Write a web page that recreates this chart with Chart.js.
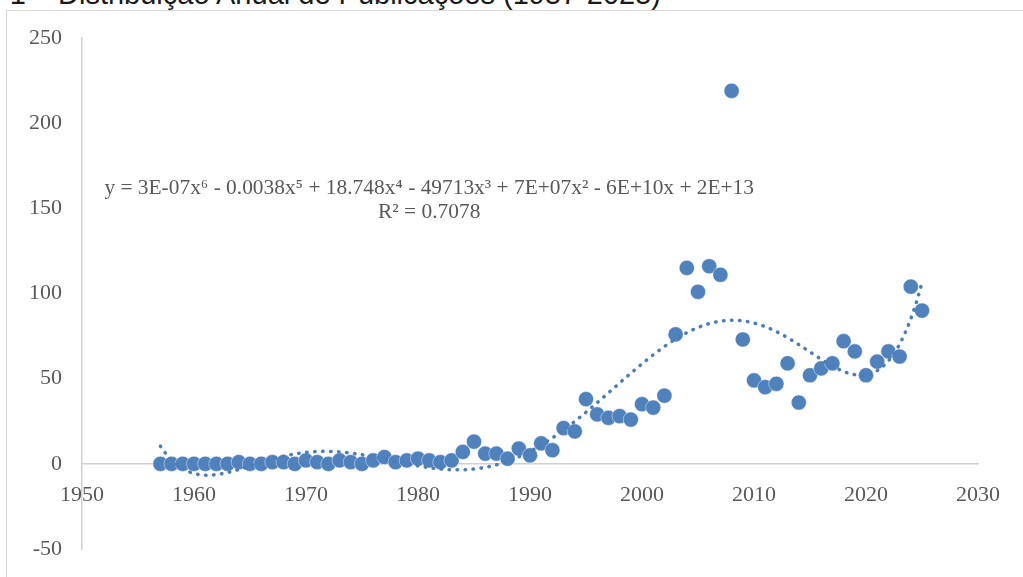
<!DOCTYPE html>
<html>
<head>
<meta charset="utf-8">
<script src="https://cdn.jsdelivr.net/npm/chart.js@4.4.1/dist/chart.umd.min.js"></script>
<style>
  html, body { margin: 0; padding: 0; background: #fff; overflow: hidden; }
  #wrap { position: relative; width: 1023px; height: 577px; overflow: hidden; }
  #caption { position: absolute; right: 362px; top: -20px; font: 29px/29px "Liberation Sans", Arial, sans-serif; color: #1a1a1a; white-space: nowrap; }
  #frame { position: absolute; left: 6px; top: 10px; width: 1040px; height: 600px; border: 1.5px solid #d9d9d9; }
  canvas { position: absolute; left: 0; top: 0; }
</style>
</head>
<body>
<div id="wrap">
  <div id="caption">Gráfico 1 – Distribuição Anual de Publicações (1957-2025)</div>
  <div id="frame"></div>
  <canvas id="pubChart" width="1023" height="577"></canvas>
</div>
<script>
const years = [
  1957, 1958, 1959, 1960, 1961, 1962, 1963, 1964, 1965, 1966,
  1967, 1968, 1969, 1970, 1971, 1972, 1973, 1974, 1975, 1976,
  1977, 1978, 1979, 1980, 1981, 1982, 1983, 1984, 1985, 1986,
  1987, 1988, 1989, 1990, 1991, 1992, 1993, 1994, 1995, 1996,
  1997, 1998, 1999, 2000, 2001, 2002, 2003, 2004, 2005, 2006,
  2007, 2008, 2009, 2010, 2011, 2012, 2013, 2014, 2015, 2016,
  2017, 2018, 2019, 2020, 2021, 2022, 2023, 2024, 2025
];
const publications = [
  0, 0, 0, 0, 0, 0, 0, 1, 0, 0,
  1, 1, 0, 2, 1, 0, 2, 1, 0, 2,
  4, 1, 2, 3, 2, 1, 2, 7, 13, 6,
  6, 3, 9, 5, 12, 8, 21, 19, 38, 29,
  27, 28, 26, 35, 33, 40, 76, 115, 101, 116,
  111, 219, 73, 49, 45, 47, 59, 36, 52, 56,
  59, 72, 66, 52, 60, 66, 63, 104, 90
];
const xTicks = [1950, 1960, 1970, 1980, 1990, 2000, 2010, 2020, 2030];
const yTicks = [-50, 0, 50, 100, 150, 200, 250];
const trendEquation = "y = 3E-07x⁶ - 0.0038x⁵ + 18.748x⁴ - 49713x³ + 7E+07x² - 6E+10x + 2E+13";
const trendR2 = "R² = 0.7078";

// 6th order least squares trendline (like Excel), x centred/scaled for stability
function polyFit(xs, ys, deg) {
  const n = deg + 1;
  const A = [];
  for (let i = 0; i < n; i++) A.push(new Array(n + 1).fill(0));
  xs.forEach((x, k) => {
    for (let i = 0; i < n; i++) {
      for (let j = 0; j < n; j++) A[i][j] += Math.pow(x, i + j);
      A[i][n] += ys[k] * Math.pow(x, i);
    }
  });
  for (let c = 0; c < n; c++) {
    let p = c;
    for (let r = c + 1; r < n; r++) if (Math.abs(A[r][c]) > Math.abs(A[p][c])) p = r;
    [A[c], A[p]] = [A[p], A[c]];
    for (let r = 0; r < n; r++) {
      if (r === c) continue;
      const f = A[r][c] / A[c][c];
      for (let j = c; j <= n; j++) A[r][j] -= f * A[c][j];
    }
  }
  return A.map((row, i) => row[n] / row[i]);
}

const mid = 1991, span = 34;
const ts = years.map(y => (y - mid) / span);
const coef = polyFit(ts, publications, 6);
const trendAt = yr => {
  const t = (yr - mid) / span;
  return coef.reduce((s, c, i) => s + c * Math.pow(t, i), 0);
};
const trendPoints = [];
for (let yr = years[0]; yr <= years[years.length - 1] + 1e-9; yr += 0.25) {
  trendPoints.push({ x: yr, y: trendAt(yr) });
}

const equationLabel = {
  id: "equationLabel",
  afterDatasetsDraw(chart) {
    const { ctx, scales: { x, y } } = chart;
    const cx = x.getPixelForValue(1981);
    const cy = y.getPixelForValue(162);
    ctx.save();
    ctx.fillStyle = "#595959";
    ctx.font = '21.4px "Liberation Serif", "Times New Roman", serif';
    ctx.textAlign = "center";
    ctx.textBaseline = "middle";
    ctx.fillText(trendEquation, cx, cy);
    ctx.fillText(trendR2, cx, cy + 24);
    ctx.restore();
  }
};

const tickFont = { family: '"Liberation Serif", "Times New Roman", serif', size: 22 };
const axisBorder = { display: true, color: "#d0d0d0", width: 1.5 };

new Chart(document.getElementById("pubChart"), {
  type: "scatter",
  data: {
    datasets: [
      {
        type: "line",
        label: "Trend",
        data: trendPoints,
        borderColor: "#4a7ebb",
        borderWidth: 3.5,
        borderDash: [0.5, 7.5],
        borderCapStyle: "round",
        pointRadius: 0,
        fill: false,
        tension: 0,
        order: 0
      },
      {
        label: "Publicações",
        data: years.map((yr, i) => ({ x: yr, y: publications[i] })),
        backgroundColor: "#4f81bd",
        borderColor: "rgba(255,255,255,0.55)",
        borderWidth: 0.8,
        pointRadius: 7.6,
        pointHoverRadius: 7.6,
        order: 1
      }
    ]
  },
  options: {
    responsive: false,
    animation: false,
    layout: { padding: { left: 0, right: 45, top: 38, bottom: 28 } },
    scales: {
      x: {
        type: "linear",
        position: { y: 0 },
        min: 1950,
        max: 2030,
        afterBuildTicks: scale => { scale.ticks = xTicks.map(v => ({ value: v })); },
        grid: { display: false, drawTicks: false },
        border: axisBorder,
        ticks: { color: "#595959", font: tickFont, padding: 18, maxRotation: 0, autoSkip: false, callback: v => String(v) }
      },
      y: {
        type: "linear",
        min: -50,
        max: 250,
        afterBuildTicks: scale => { scale.ticks = yTicks.map(v => ({ value: v })); },
        afterFit: scale => {
          scale.width = 82;
          // the label gap shouldn't push the plot edges in
          scale.paddingTop = 0;
          scale.paddingBottom = 0;
        },
        grid: { display: false, drawTicks: false },
        border: axisBorder,
        ticks: { color: "#595959", font: tickFont, padding: 20 }
      }
    },
    plugins: {
      legend: { display: false },
      tooltip: { enabled: false }
    }
  },
  plugins: [equationLabel]
});
</script>
</body>
</html>
